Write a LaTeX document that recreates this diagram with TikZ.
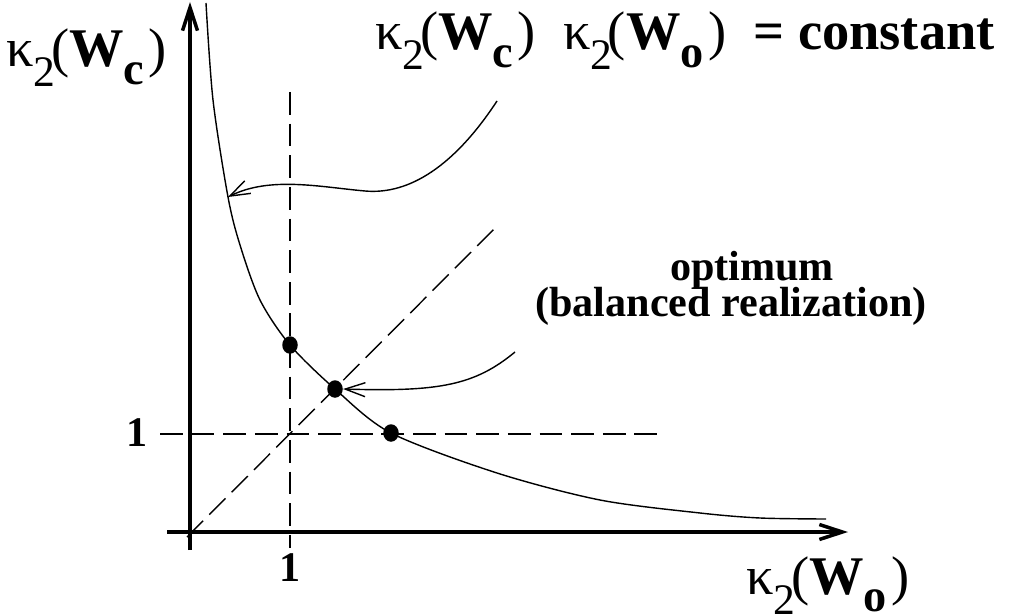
\documentclass[tikz,border=0pt]{standalone}
\usepackage{fontspec}
\setmainfont{Liberation Serif}
\usepackage{graphicx}
\usetikzlibrary{arrows.meta,shapes.geometric}

\newcommand{\kapw}[1]{{\mdseries κ\raisebox{-0.8ex}{\scalebox{0.8}{2}}\kern-0.08em(}W\raisebox{-0.7ex}{\scalebox{0.85}{#1}}\kern0.08em{\mdseries)}}

\begin{document}
\begin{tikzpicture}[
  x=0.02cm, y=-0.02cm,
  font=\fontsize{24}{28}\selectfont\bfseries,
  big/.style={font=\fontsize{31}{36}\selectfont\bfseries, anchor=base west, inner sep=0pt},
  axis/.style={line width=2pt, -{Straight Barb[length=0.46cm, width=0.3cm]}},
  guide/.style={line width=0.8pt, dash pattern=on 13pt off 5pt},
  curve/.style={line width=0.8pt},
  pointer/.style={line width=0.8pt, -{Straight Barb[length=0.4cm, width=0.28cm]}},
  dot/.style={ellipse, fill, inner sep=0pt, minimum width=0.31cm, minimum height=0.35cm}
]
\useasboundingbox (0,0) rectangle (1011,615);

% axes
\coordinate (xs) at (167,532);
\coordinate (xe) at (848,532);
\coordinate (ys) at (190,550);
\coordinate (ye) at (190,2);
\draw[axis] (xs) -- (xe);
\draw[axis] (ys) -- (ye);

% guide lines
\coordinate (vs) at (290,92);
\coordinate (ve) at (290,548);
\coordinate (hs) at (160,434);
\coordinate (he) at (660,434);
\coordinate (ds) at (187,537);
\coordinate (de) at (497,226);
\draw[guide] (vs) -- (ve);
\draw[guide] (hs) -- (he);
\draw[guide] (ds) -- (de);

% constant product curve
\draw[curve] plot[smooth] coordinates {(206,3) (213,100) (228,197) (240,245)
  (260,300) (290,345) (335,389) (391,433) (497,473) (600,500) (700,513)
  (760,518) (826,519)};

% points on the curve
\node[dot] (d1) at (290,345) {};
\node[dot] (d2) at (335,389) {};
\node[dot] (d3) at (391,433) {};

% pointers
\coordinate (s1) at (497,101);
\coordinate (t1) at (228,197);
\coordinate (s2) at (515,352);
\draw[pointer] (s1) .. controls (455,165) and (410,195) .. (365,191)
  .. controls (320,187) and (270,176) .. (t1);
\draw[pointer] (s2) .. controls (475,385) and (440,392) .. (d2.east);

% labels
\node[big] (ylab) at (6,67) {\kapw{c}};
\node[big] (xlab) at (746,594) {\kapw{o}};
\node[big] (prod) at (375,50) {\kapw{c}\ \ \kapw{o}\ \ = constant};
\node[inner sep=0pt] (opt) at (752,270) {optimum};
\node[inner sep=0pt] (bal) at (731,306) {(balanced realization)};
\node (one1) at (137,433) {1};
\node (one2) at (290,568) {1};
\end{tikzpicture}
\end{document}
